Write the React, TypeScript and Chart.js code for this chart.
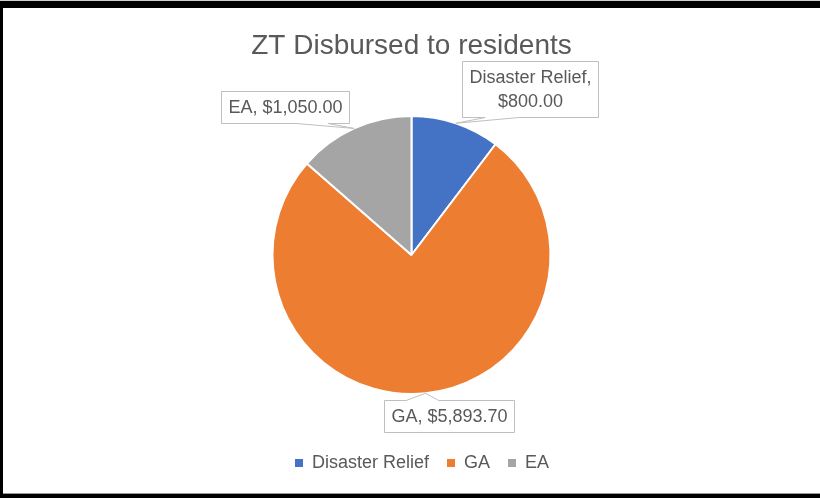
import React, { useEffect, useRef } from "react";
import { Chart, registerables } from "chart.js";

Chart.register(...registerables);

// ---- data ----
const CATEGORIES = ["Disaster Relief", "GA", "EA"];
const VALUES = [800.0, 5893.7, 1050.0];
const COLORS = ["#4472C4", "#ED7D31", "#A5A5A5"];
const TITLE = "ZT Disbursed to residents";

// ---- label callout style: box-centre offset from slice edge tip, and line wrap ----
const LABEL_OFFSETS: [number, number][] = [
  [74, -34],
  [23.5, 23],
  [-69, -21],
];
const LABEL_WRAP = [true, false, false];

const FONT = "'Liberation Sans', Arial, sans-serif";
const TEXT_COLOR = "#595959";

function fmt(v: number) {
  return "$" + v.toLocaleString("en-US", { minimumFractionDigits: 2, maximumFractionDigits: 2 });
}

function wedgePath(ctx: CanvasRenderingContext2D, l: number, t: number, w: number, h: number, tx: number, ty: number) {
  const r = l + w, b = t + h;
  const cx = l + w / 2, cy = t + h / 2;
  const dx = tx - cx, dy = ty - cy;
  ctx.beginPath();
  if (Math.abs(dx) / w > Math.abs(dy) / h) {
    const yl = dy > 0 ? t + (h * 7) / 12 : t + (h * 2) / 12;
    const yr = yl + (h * 3) / 12;
    if (dx < 0) {
      ctx.moveTo(l, t); ctx.lineTo(r, t); ctx.lineTo(r, b); ctx.lineTo(l, b);
      ctx.lineTo(l, yr); ctx.lineTo(tx, ty); ctx.lineTo(l, yl);
    } else {
      ctx.moveTo(l, t); ctx.lineTo(r, t); ctx.lineTo(r, yl); ctx.lineTo(tx, ty);
      ctx.lineTo(r, yr); ctx.lineTo(r, b); ctx.lineTo(l, b);
    }
  } else {
    const xl = dx > 0 ? l + (w * 7) / 12 : l + (w * 2) / 12;
    const xr = xl + (w * 3) / 12;
    if (dy < 0) {
      ctx.moveTo(l, t); ctx.lineTo(xl, t); ctx.lineTo(tx, ty); ctx.lineTo(xr, t);
      ctx.lineTo(r, t); ctx.lineTo(r, b); ctx.lineTo(l, b);
    } else {
      ctx.moveTo(l, t); ctx.lineTo(r, t); ctx.lineTo(r, b); ctx.lineTo(xr, b);
      ctx.lineTo(tx, ty); ctx.lineTo(xl, b); ctx.lineTo(l, b);
    }
  }
  ctx.closePath();
}

const calloutPlugin = {
  id: "calloutLabels",
  afterDatasetsDraw(chart: any) {
    const ctx: CanvasRenderingContext2D = chart.ctx;
    const meta = chart.getDatasetMeta(0);
    ctx.save();
    ctx.font = `18px ${FONT}`;
    meta.data.forEach((arc: any, i: number) => {
      const p = arc.getProps(["x", "y", "startAngle", "endAngle", "outerRadius"], true);
      const mid = (p.startAngle + p.endAngle) / 2;
      const tx = p.x + Math.cos(mid) * p.outerRadius;
      const ty = p.y + Math.sin(mid) * p.outerRadius;
      const val = fmt(VALUES[i]);
      const lines = LABEL_WRAP[i] ? [CATEGORIES[i] + ",", val] : [CATEGORIES[i] + ", " + val];
      const lh = 24, padX = 7, padY = 4;
      const tw = Math.max(...lines.map((s) => ctx.measureText(s).width));
      const w = Math.round(tw + 2 * padX);
      const h = lines.length * lh + 2 * padY;
      const cx = tx + LABEL_OFFSETS[i][0];
      const cy = ty + LABEL_OFFSETS[i][1];
      const l = Math.round(cx - w / 2) + 0.5;
      const t = Math.round(cy - h / 2) + 0.5;
      wedgePath(ctx, l, t, w, h, tx, ty);
      ctx.fillStyle = "#ffffff";
      ctx.fill();
      ctx.strokeStyle = "#BFBFBF";
      ctx.lineWidth = 1;
      ctx.stroke();
      ctx.fillStyle = TEXT_COLOR;
      ctx.textAlign = "center";
      ctx.textBaseline = "middle";
      lines.forEach((s, k) => ctx.fillText(s, l + w / 2, t + padY + lh * (k + 0.5) + 1));
    });
    ctx.restore();
  },
};

const legendShiftPlugin = {
  id: "legendShift",
  afterLayout(chart: any) {
    if (chart.legend) {
      chart.legend.left += 21;
    }
  },
};

export default function App() {
  const ref = useRef<HTMLCanvasElement>(null);

  useEffect(() => {
    if (!ref.current) return;
    const baseGen = (Chart as any).overrides.pie.plugins.legend.labels.generateLabels;
    const chart = new Chart(ref.current, {
      type: "pie",
      data: {
        labels: CATEGORIES,
        datasets: [
          {
            data: VALUES,
            backgroundColor: COLORS,
            borderColor: "#ffffff",
            borderWidth: 2,
            radius: 139,
          } as any,
        ],
      },
      options: {
        animation: false,
        responsive: false,
        layout: { padding: { top: 0, bottom: 11, left: 0, right: 0 } },
        plugins: {
          title: {
            display: true,
            text: TITLE,
            color: TEXT_COLOR,
            font: { family: FONT, size: 28, weight: "normal" as any },
            padding: { top: 21, bottom: 11.4 },
          },
          legend: {
            position: "bottom",
            labels: {
              boxWidth: 8,
              boxHeight: 8,
              padding: 18,
              color: TEXT_COLOR,
              font: { family: FONT, size: 18 },
              generateLabels: (c: any) =>
                baseGen(c).map((it: any) => ({ ...it, lineWidth: 0, strokeStyle: "rgba(0,0,0,0)" })),
            },
          },
          tooltip: { enabled: false },
        },
      },
      plugins: [calloutPlugin, legendShiftPlugin],
    });
    return () => chart.destroy();
  }, []);

  return (
    <div style={{ position: "absolute", left: 0, top: 0, width: 820, height: 498, background: "#000", overflow: "hidden" }}>
      <div style={{ position: "absolute", left: 0, top: 0, width: 820, height: 1, background: "#d0d0d0" }} />
      <div
        style={{
          position: "absolute",
          left: 3,
          top: 8,
          width: 817,
          height: 485,
          background: "#fff",
          borderBottom: "1px solid #9a9a9a",
        }}
      >
        <canvas ref={ref} width={817} height={485} style={{ display: "block" }} />
      </div>
    </div>
  );
}
